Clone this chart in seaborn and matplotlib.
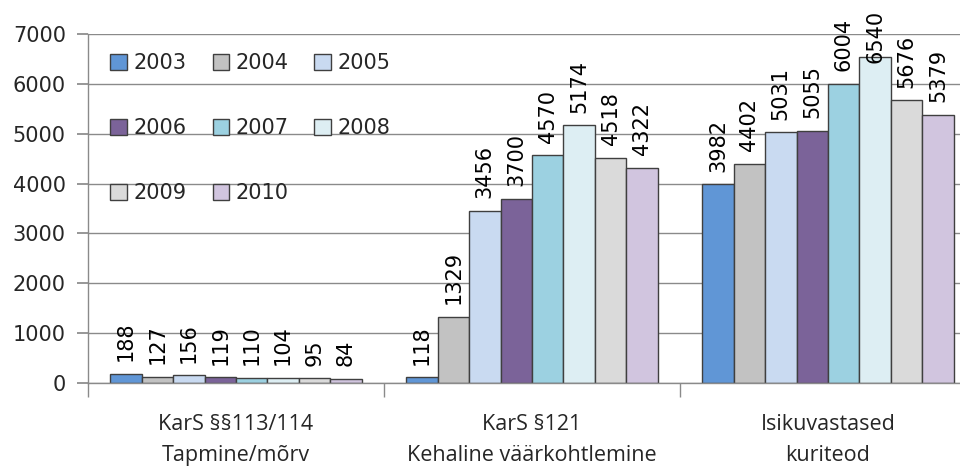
import matplotlib
matplotlib.use("Agg")
import matplotlib.pyplot as plt
import seaborn as sns
import pandas as pd

categories = ["KarS §§113/114\nTapmine/mõrv", "KarS §121\nKehaline väärkohtlemine", "Isikuvastased\nkuriteod"]
years = ["2003", "2004", "2005", "2006", "2007", "2008", "2009", "2010"]
tapmine = [188, 127, 156, 119, 110, 104, 95, 84]
kehaline = [118, 1329, 3456, 3700, 4570, 5174, 4518, 4322]
isikuvastased = [3982, 4402, 5031, 5055, 6004, 6540, 5676, 5379]
colors = ["#6096D6", "#C2C2C2", "#C9DAF1", "#7B6399", "#9CD1E1", "#DDEEF3", "#DADADA", "#D1C5DF"]

rows = []
for cat, vals in zip(categories, [tapmine, kehaline, isikuvastased]):
    for y, v in zip(years, vals):
        rows.append({"cat": cat, "year": y, "value": v})
df = pd.DataFrame(rows)

sns.set_theme(style="white")
plt.rcParams["font.family"] = ["DejaVu Sans"]
FS = 15

W, H = 960, 467
fig = plt.figure(figsize=(W / 100, H / 100), dpi=100)
ax = fig.add_axes([88 / W, (H - 383) / H, (976 - 88) / W, (383 - 34) / H])

sns.barplot(data=df, x="cat", y="value", hue="year", hue_order=years, palette=colors,
            width=0.85, edgecolor="#3F3F3F", linewidth=1.0, saturation=1, ax=ax, gap=0)

anns = []
for cont in ax.containers:
    anns += ax.bar_label(cont, rotation=90, padding=9, fontsize=FS, color="black", clip_on=False)

ax.set_ylim(0, 7000)
ax.set_xlim(-0.5, 2.5)
ax.set_yticks(range(0, 7001, 1000))
ax.yaxis.grid(True, color="#8A8A8A", linewidth=1)
ax.set_axisbelow(True)
ax.set_xlabel("")
ax.set_ylabel("")
for s in ["top", "right"]:
    ax.spines[s].set_visible(False)
for s in ["left", "bottom"]:
    ax.spines[s].set_color("#8A8A8A")
    ax.spines[s].set_linewidth(1)
ax.tick_params(axis="y", which="major", left=True, length=8, color="#8A8A8A", labelsize=FS, pad=8)
ax.tick_params(axis="x", which="major", bottom=False, labelsize=15.5, pad=16)
ax.set_xticks([-0.5, 0.5, 1.5, 2.5], minor=True)
ax.tick_params(axis="x", which="minor", bottom=True, length=10, color="#8A8A8A", direction="out")
for lab in ax.get_xticklabels():
    lab.set_linespacing(1.65)
    lab.set_family(["Open Sans", "DejaVu Sans"])

handles, labels = ax.get_legend_handles_labels()
order = [0, 3, 6, 1, 4, 7, 2, 5]
ax.legend([handles[i] for i in order], [labels[i] for i in order], ncol=3, loc="upper left",
          bbox_to_anchor=(100 / W, (H - 43) / H),
          bbox_transform=fig.transFigure, frameon=False, fontsize=FS, borderpad=0,
          handlelength=0.8, handleheight=0.8, handletextpad=0.3, columnspacing=1.25,
          labelspacing=2.15)

# keep value labels inside the figure (as the original shifts the tallest label down)
fig.canvas.draw()
renderer = fig.canvas.get_renderer()
for a in anns:
    bb = a.get_window_extent(renderer)
    over = bb.y1 - (H - 10)
    if over > 0:
        x, y = a.xyann
        a.xyann = (x, y - over * 72 / fig.dpi)

fig.savefig("out.png", dpi=100)
